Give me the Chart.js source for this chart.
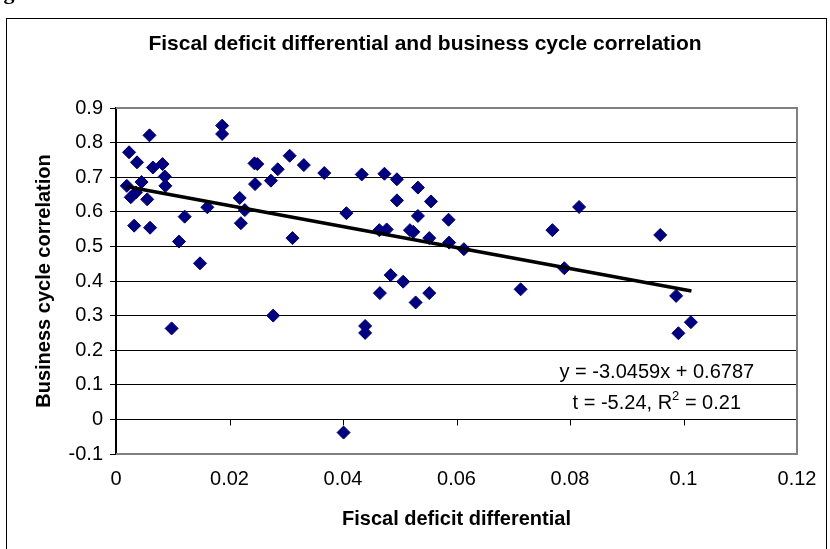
<!DOCTYPE html>
<html lang="en">
<head>
<meta charset="utf-8">
<script src="https://cdn.jsdelivr.net/npm/chart.js"></script>
<style>
  html, body { margin: 0; padding: 0; background: #fff; }
  #chartContainer { width: 830px; height: 549px; position: relative; }
</style>
</head>
<body>

<div id="chartContainer">
  <canvas id="chartCanvas" width="830" height="549"></canvas>
</div>

<script>
  // values (x = fiscal deficit differential, y = correlation)
  const deficitDiff = [
    0.0019, 0.0023, 0.0037, 0.0026, 0.0032, 0.0045, 0.0035, 0.0055, 0.0059, 0.0065,
    0.0082, 0.0086, 0.0087, 0.0060, 0.0098, 0.0111, 0.0121, 0.0148, 0.0161, 0.0187,
    0.0187, 0.0218, 0.0227, 0.0220, 0.0244, 0.0249, 0.0245, 0.0273, 0.0285, 0.0306,
    0.0311, 0.0277, 0.0331, 0.0367, 0.0406, 0.0401, 0.0433, 0.0439, 0.0439, 0.0473,
    0.0495, 0.0532, 0.0495, 0.0555, 0.0532, 0.0586, 0.0464, 0.0477, 0.0518, 0.0524,
    0.0552, 0.0587, 0.0613, 0.0484, 0.0506, 0.0465, 0.0528, 0.0552, 0.0816, 0.0769,
    0.0790, 0.0713, 0.0959, 0.0987, 0.1013, 0.0991
  ];
  const cycleCorr = [
    0.675, 0.772, 0.743, 0.642, 0.560, 0.686, 0.656, 0.636, 0.821, 0.728,
    0.738, 0.702, 0.675, 0.554, 0.263, 0.514, 0.586, 0.451, 0.613, 0.849,
    0.825, 0.640, 0.605, 0.567, 0.740, 0.738, 0.680, 0.690, 0.723, 0.762,
    0.524, 0.300, 0.735, 0.712, 0.596, -0.038, 0.708, 0.270, 0.250, 0.710,
    0.694, 0.670, 0.633, 0.630, 0.588, 0.577, 0.547, 0.549, 0.547, 0.542,
    0.524, 0.511, 0.492, 0.417, 0.398, 0.365, 0.338, 0.365, 0.614, 0.547,
    0.437, 0.376, 0.533, 0.357, 0.281, 0.249
  ];

  // fitted line end points as drawn
  const trendX = [0.0018, 0.1014];
  const trendY = [0.673, 0.371];

  const xTicks = [0, 0.02, 0.04, 0.06, 0.08, 0.1, 0.12];
  const xTickLabels = ['0', '0.02', '0.04', '0.06', '0.08', '0.1', '0.12'];
  const yTicks = [0.9, 0.8, 0.7, 0.6, 0.5, 0.4, 0.3, 0.2, 0.1, 0, -0.1];
  const yTickLabels = ['0.9', '0.8', '0.7', '0.6', '0.5', '0.4', '0.3', '0.2', '0.1', '0', '-0.1'];

  const chartTitle = 'Fiscal deficit differential and business cycle correlation';
  const FONT = '"Liberation Sans", Arial, sans-serif';

  const framePlugin = {
    id: 'frame',
    beforeDraw(chart) {
      const c = chart.ctx;
      c.save();
      c.fillStyle = '#fff';
      c.fillRect(0, 0, chart.width, chart.height);
      // clipped caption line from the page above
      c.fillStyle = '#000';
      c.font = 'bold 22px "Liberation Serif", serif';
      c.textBaseline = 'alphabetic';
      c.fillText('Figure', -16, -1);
      // outer chart box
      c.strokeStyle = '#000';
      c.lineWidth = 1;
      c.strokeRect(6.5, 18.5, 820, 560);
      // chart title, centred on the box
      c.font = 'bold 21px ' + FONT;
      c.textAlign = 'center';
      c.textBaseline = 'middle';
      c.fillText(chartTitle, 425, 44);
      c.restore();
    },
    beforeDatasetsDraw(chart) {
      const c = chart.ctx;
      const a = chart.chartArea;
      const xs = chart.scales.x, ys = chart.scales.y;
      c.save();
      // zero line with tick marks
      const y0 = Math.round(ys.getPixelForValue(0)) + 0.5;
      c.strokeStyle = '#000';
      c.lineWidth = 1;
      c.beginPath();
      c.moveTo(a.left, y0);
      c.lineTo(a.right, y0);
      xTicks.forEach(v => {
        const px = Math.round(xs.getPixelForValue(v)) + 0.5;
        c.moveTo(px, y0);
        c.lineTo(px, y0 + 6);
      });
      c.stroke();
      // plot area border (grey)
      c.strokeStyle = '#808080';
      c.lineWidth = 2;
      c.beginPath();
      c.moveTo(a.left, a.top);
      c.lineTo(a.right, a.top);
      c.lineTo(a.right, a.bottom);
      c.lineTo(a.left, a.bottom);
      c.stroke();
      c.restore();
    },
    afterDraw(chart) {
      const c = chart.ctx;
      const xs = chart.scales.x, ys = chart.scales.y;
      const cx = xs.getPixelForValue(0.0953);
      c.save();
      c.fillStyle = '#000';
      c.font = '20px ' + FONT;
      c.textAlign = 'center';
      c.textBaseline = 'middle';
      c.fillText('y = -3.0459x + 0.6787', cx, ys.getPixelForValue(0.137));
      // second line with superscript 2
      const yLine = ys.getPixelForValue(0.047);
      const p1 = 't = -5.24, R', p2 = '2', p3 = ' = 0.21';
      const w1 = c.measureText(p1).width, w3 = c.measureText(p3).width;
      c.font = '13px ' + FONT;
      const w2 = c.measureText(p2).width;
      let x = cx - (w1 + w2 + w3) / 2;
      c.textAlign = 'left';
      c.font = '20px ' + FONT;
      c.fillText(p1, x, yLine);
      x += w1;
      c.font = '13px ' + FONT;
      c.fillText(p2, x, yLine - 7);
      x += w2;
      c.font = '20px ' + FONT;
      c.fillText(p3, x, yLine);
      c.restore();
    }
  };

  const ctx = document.getElementById('chartCanvas').getContext('2d');
  const chart = new Chart(ctx, {
    type: 'scatter',
    data: {
      datasets: [
        {
          type: 'line',
          label: 'Trend',
          data: trendX.map((x, i) => ({ x: x, y: trendY[i] })),
          borderColor: '#000',
          borderWidth: 3.5,
          pointRadius: 0,
          fill: false,
          order: 0
        },
        {
          label: 'Countries',
          data: deficitDiff.map((x, i) => ({ x: x, y: cycleCorr[i] })),
          pointStyle: 'rectRot',
          pointRadius: 6.5,
          backgroundColor: '#000080',
          borderColor: '#000080',
          borderWidth: 1,
          order: 1
        }
      ]
    },
    options: {
      responsive: false,
      animation: false,
      layout: { padding: { left: 0, right: 33, top: 108, bottom: 0 } },
      plugins: {
        legend: { display: false },
        tooltip: { enabled: false },
        title: { display: false }
      },
      scales: {
        x: {
          type: 'linear',
          min: 0,
          max: 0.12,
          afterBuildTicks: s => { s.ticks = xTicks.map(v => ({ value: v })); },
          afterFit: s => { s.height = 95; },
          grid: { display: false, drawTicks: false },
          border: { display: false },
          ticks: {
            padding: 13,
            color: '#000',
            maxRotation: 0,
            autoSkip: false,
            font: { family: FONT, size: 20 },
            callback: (v, i) => xTickLabels[i]
          },
          title: {
            display: true,
            text: 'Fiscal deficit differential',
            color: '#000',
            font: { family: FONT, size: 20, weight: 'bold' },
            padding: { top: 0, bottom: 18 }
          }
        },
        y: {
          min: -0.1,
          max: 0.9,
          afterBuildTicks: s => { s.ticks = yTicks.map(v => ({ value: v })); },
          afterFit: s => { s.width = 116; },
          grid: { color: '#000', lineWidth: 1, drawTicks: true, tickLength: 6 },
          border: { display: true, color: '#000', width: 2 },
          ticks: {
            padding: 7,
            color: '#000',
            autoSkip: false,
            font: { family: FONT, size: 20 },
            callback: (v, i) => yTickLabels[i]
          },
          title: {
            display: true,
            text: 'Business cycle correlation',
            color: '#000',
            font: { family: FONT, size: 20, weight: 'bold' },
            padding: { top: 32, bottom: 0 }
          }
        }
      }
    },
    plugins: [framePlugin]
  });
</script>

</body>
</html>
